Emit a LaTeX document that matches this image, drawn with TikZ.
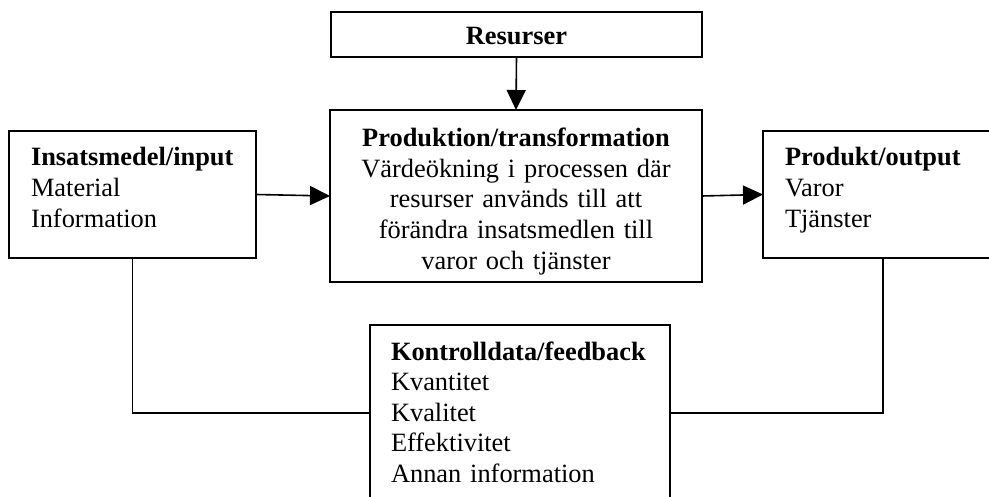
\documentclass[tikz,border=0pt]{standalone}
\usepackage{fontspec}
\setmainfont{Liberation Serif}
\usetikzlibrary{arrows.meta}

\tikzset{
  box/.style={draw, line width=1.6pt, rectangle, inner sep=0pt, outer sep=0pt},
  boxtext/.style={inner sep=0pt, outer sep=0pt,
    font=\fontsize{26.4}{30.6}\selectfont},
  flow/.style={line width=1.6pt, -{Triangle[length=20pt,width=19pt]}},
  link/.style={line width=1.5pt}
}

\begin{document}
\begin{tikzpicture}[x=1pt,y=-1pt]
  \useasboundingbox (0,0) rectangle (989,497);
  \clip (0,0) rectangle (989,497);

  % frames
  \node[box, minimum width=371pt, minimum height=45pt]  (res)  at (516.5,34.5) {};
  \node[box, minimum width=372pt, minimum height=172pt] (prod) at (516,196)    {};
  \node[box, minimum width=247pt, minimum height=127pt] (in)   at (132.5,194.5) {};
  \node[box, minimum width=240pt, minimum height=127pt] (out)  at (883,194.5)  {};
  \node[box, minimum width=300pt, minimum height=176pt] (fb)   at (520,413)    {};

  % texts
  \node[boxtext, anchor=base] (restext) at (516.5,45) {\textbf{Resurser}};
  \node[boxtext, anchor=base, text width=360pt, align=center] (prodtext) at (516,146.7)
    {\textbf{Produktion/transformation}\\
     Värdeökning i processen där\\
     resurser används till att\\
     förändra insatsmedlen till\\
     varor och tjänster};
  \node[boxtext, anchor=base west, text width=220pt, align=left] (intext) at (31,166)
    {\textbf{Insatsmedel/input}\\ Material\\ Information};
  \node[boxtext, anchor=base west, text width=200pt, align=left] (outtext) at (785,166)
    {\textbf{Produkt/output}\\ Varor\\ Tjänster};
  \node[boxtext, anchor=base west, text width=275pt, align=left] (fbtext) at (391,360)
    {\textbf{Kontrolldata/feedback}\\ Kvantitet\\ Kvalitet\\ Effektivitet\\ Annan information};

  % flow arrows
  \draw[flow] (res.south) -- (prod.north);
  \draw[flow] (in.east) -- (prod.west);
  \draw[flow] (prod.east) -- (out.west);

  % feedback links
  \draw[link] (in.south) |- (fb.west);
  \draw[link] (out.south) |- (fb.east);
\end{tikzpicture}
\end{document}
